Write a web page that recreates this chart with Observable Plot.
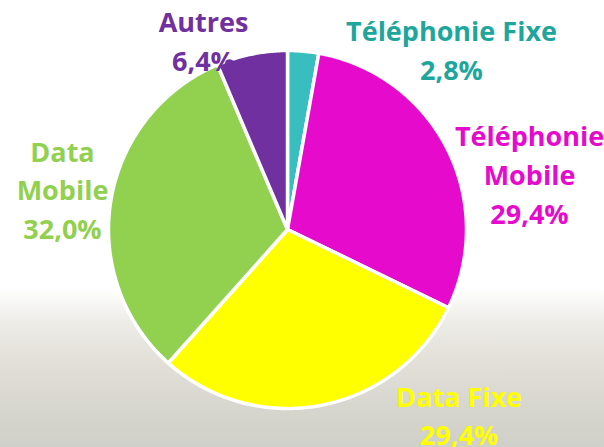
<!DOCTYPE html>
<html><head><meta charset="utf-8">
<script src="https://cdn.jsdelivr.net/npm/d3@7"></script>
<script src="https://cdn.jsdelivr.net/npm/@observablehq/plot@0.6"></script>
<style>
html,body{margin:0;padding:0;}
body{width:604px;height:447px;overflow:hidden;background:linear-gradient(to bottom,#ffffff 0px,#ffffff 288px,#efede8 320px,#e2e0d9 360px,#d8d7d0 400px,#cfd0c9 447px);}
#chart svg{display:block;}
</style></head><body><div id="chart"></div>
<script>
// ---- data ----
const categories = ["Téléphonie Fixe", "Téléphonie Mobile", "Data Fixe", "Data Mobile", "Autres"];
const shares = [2.8, 29.4, 29.4, 32.0, 6.4];
const shareLabels = ["2,8%", "29,4%", "29,4%", "32,0%", "6,4%"];
const nameLines = ["Téléphonie Fixe", "Téléphonie\nMobile", "Data Fixe", "Data\nMobile", "Autres"];

// ---- styles / layout ----
const sliceColors = ["#38bebe", "#e60acd", "#ffff00", "#92d050", "#7030a0"];
const labelColors = ["#1ea69c", "#e60acd", "#ffff00", "#92d050", "#7030a0"];
const W = 604, H = 447, CX = 287, CY = 229, R = 179;
// label block centres, pixel offsets from pie centre
const labelOffsets = [[164, -181.5], [242, -57], [171.5, 184], [-225, -41.5], [-84, -190.5]];

const pie = d3.pie().sort(null).value(d => d.share)(categories.map((c, i) => ({cat: c, share: shares[i]})));
const pts = [];
for (const s of pie) {
  pts.push({cat: s.data.cat, x: 0, y: 0});
  const n = Math.max(2, Math.ceil((s.endAngle - s.startAngle) / (Math.PI / 360)));
  for (let k = 0; k <= n; k++) {
    const a = s.startAngle + (s.endAngle - s.startAngle) * k / n;
    pts.push({cat: s.data.cat, x: Math.sin(a), y: Math.cos(a)});
  }
}

const labels = categories.map((c, i) => ({
  cat: c,
  text: nameLines[i] + "\n" + shareLabels[i],
  x: labelOffsets[i][0] / R,
  y: -labelOffsets[i][1] / R,
  color: labelColors[i]
}));

const plot = Plot.plot({
  width: W, height: H,
  margin: 0,
  style: {background: "transparent", overflow: "visible"},
  x: {domain: [-CX / R, (W - CX) / R], axis: null},
  y: {domain: [-(H - CY) / R, CY / R], axis: null},
  color: {domain: categories, range: sliceColors},
  marks: [
    Plot.line(pts, {x: "x", y: "y", z: "cat", fill: "cat", stroke: "white", strokeWidth: 3.5, strokeLinejoin: "round", curve: "linear-closed"}),
    ...labels.map(l => Plot.text([l], {
      x: "x", y: "y", text: "text", fill: l.color,
      fontFamily: "Open Sans", fontWeight: "bold", fontSize: 27, lineHeight: 1.44,
      textAnchor: "middle", lineAnchor: "middle"
    }))
  ]
});
document.getElementById("chart").appendChild(plot);
</script>
</body></html>
